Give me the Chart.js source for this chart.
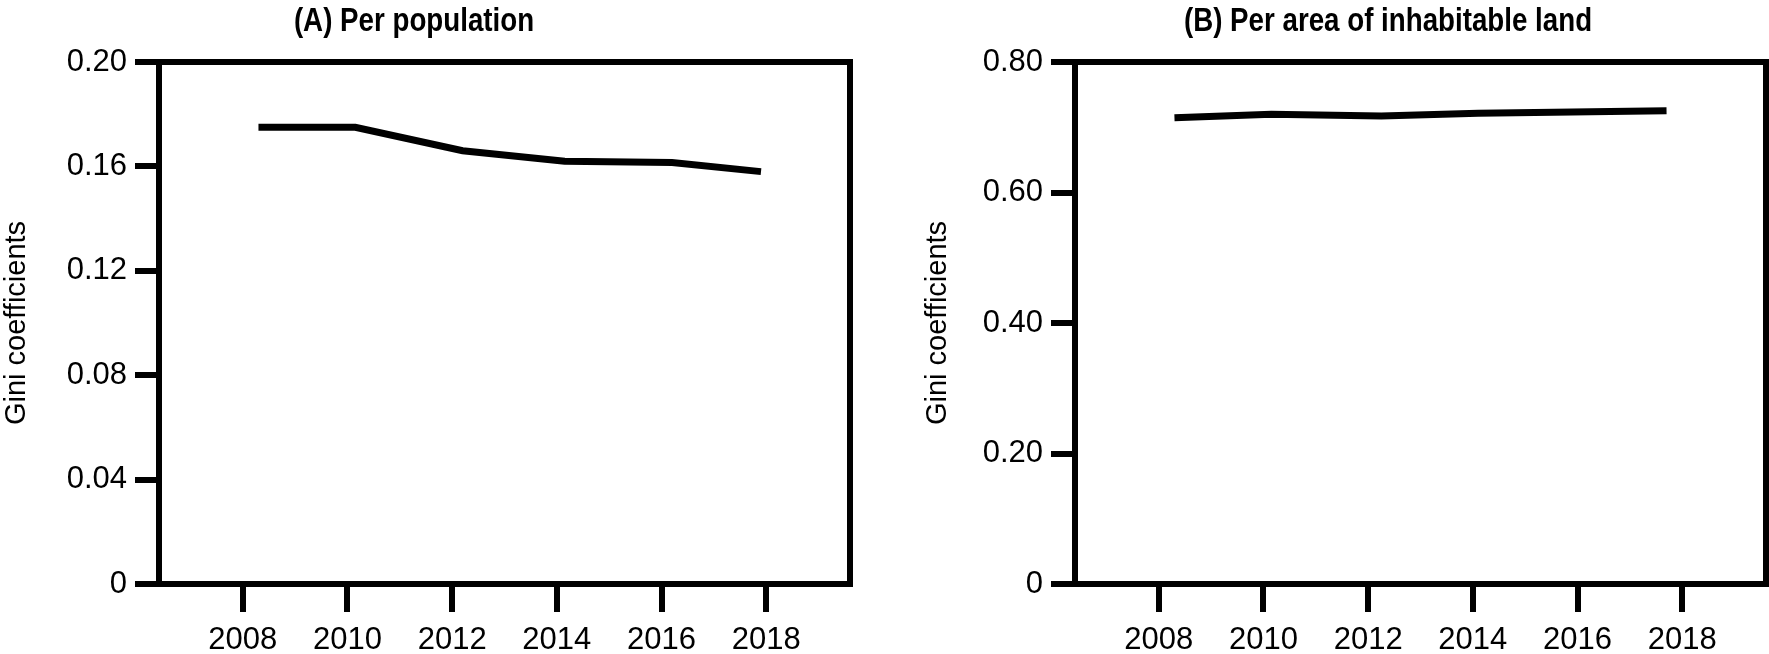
<!DOCTYPE html>
<html>
<head>
<meta charset="utf-8">
<script src="https://cdn.jsdelivr.net/npm/chart.js@4"></script>
<style>
  html, body { margin: 0; padding: 0; background: #fff; }
  #wrap { position: relative; width: 1769px; height: 654px; overflow: hidden; }
  canvas { position: absolute; top: 0; }
  #chartA { left: 0; }
  #chartB { left: 921px; }
</style>
</head>
<body>
<div id="wrap">
  <canvas id="chartA" width="870" height="654"></canvas>
  <canvas id="chartB" width="848" height="654"></canvas>
</div>
<script>
const yearTicks = [2008, 2010, 2012, 2014, 2016, 2018];

// (A) per population
const popYears = [2008.3, 2010.15, 2012.2, 2014.15, 2016.2, 2017.9];
const popGini = [0.175, 0.175, 0.166, 0.162, 0.1615, 0.158];
const popTicks = [0, 0.04, 0.08, 0.12, 0.16, 0.20];
const popTickLabels = ['0', '0.04', '0.08', '0.12', '0.16', '0.20'];

// (B) per area of inhabitable land
const landYears = [2008.3, 2010.15, 2012.25, 2014.1, 2017.7];
const landGini = [0.7146, 0.7198, 0.7172, 0.7214, 0.7254];
const landTicks = [0, 0.2, 0.4, 0.6, 0.8];
const landTickLabels = ['0', '0.20', '0.40', '0.60', '0.80'];

const FONT = "'Liberation Sans', Arial, sans-serif";

// black box round the plot area
const framePlugin = {
  id: 'frame',
  afterDraw(chart) {
    const { ctx, chartArea: a } = chart;
    ctx.save();
    ctx.lineWidth = 6;
    ctx.strokeStyle = '#000';
    ctx.strokeRect(a.left, a.top, a.right - a.left, a.bottom - a.top);
    ctx.restore();
  }
};

// panel heading, a bit condensed like the original
const panelTitle = {
  id: 'panelTitle',
  afterDraw(chart, args, opts) {
    const ctx = chart.ctx;
    ctx.save();
    ctx.translate(opts.x, opts.y);
    ctx.scale(0.84, 1);
    ctx.font = 'bold 33px ' + FONT;
    ctx.fillStyle = '#000';
    ctx.textAlign = 'center';
    ctx.textBaseline = 'middle';
    ctx.fillText(opts.text, 0, 0);
    ctx.restore();
  }
};

function makeChart(id, title, titleX, years, values, yMax, yTicks, yLabels, yWidth, padRight) {
  return new Chart(document.getElementById(id), {
    type: 'line',
    data: {
      datasets: [{
        data: years.map((x, i) => ({ x: x, y: values[i] })),
        borderColor: '#000',
        borderWidth: 7,
        pointRadius: 0,
        fill: false,
        tension: 0
      }]
    },
    plugins: [framePlugin, panelTitle],
    options: {
      responsive: false,
      animation: false,
      layout: { padding: { top: 62, left: 0, right: padRight, bottom: 0 } },
      plugins: {
        legend: { display: false },
        tooltip: { enabled: false },
        panelTitle: { text: title, x: titleX, y: 22 }
      },
      scales: {
        x: {
          type: 'linear',
          min: 2006.4,
          max: 2019.6,
          afterBuildTicks: s => { s.ticks = yearTicks.map(v => ({ value: v })); },
          afterFit: s => { s.height = 70; },
          border: { display: false },
          grid: { drawOnChartArea: false, drawTicks: true, tickLength: 28, lineWidth: 6, color: '#000' },
          ticks: {
            autoSkip: false,
            maxRotation: 0,
            padding: 10,
            color: '#000',
            font: { family: FONT, size: 31 },
            callback: v => String(v)
          }
        },
        y: {
          min: 0,
          max: yMax,
          afterBuildTicks: s => { s.ticks = yTicks.map(v => ({ value: v })); },
          afterFit: s => { s.width = yWidth; },
          border: { display: false },
          grid: { drawOnChartArea: false, drawTicks: true, tickLength: 24, lineWidth: 6, color: '#000' },
          ticks: {
            padding: 8,
            color: '#000',
            font: { family: FONT, size: 31 },
            callback: v => yLabels[yTicks.indexOf(v)]
          },
          title: {
            display: true,
            text: 'Gini coefficients',
            color: '#000',
            padding: 0,
            font: { family: FONT, size: 29 }
          }
        }
      }
    }
  });
}

makeChart('chartA', '(A) Per population', 414, popYears, popGini, 0.2, popTicks, popTickLabels, 159, 20);
makeChart('chartB', '(B) Per area of inhabitable land', 467, landYears, landGini, 0.8, landTicks, landTickLabels, 154, 3);
</script>
</body>
</html>
